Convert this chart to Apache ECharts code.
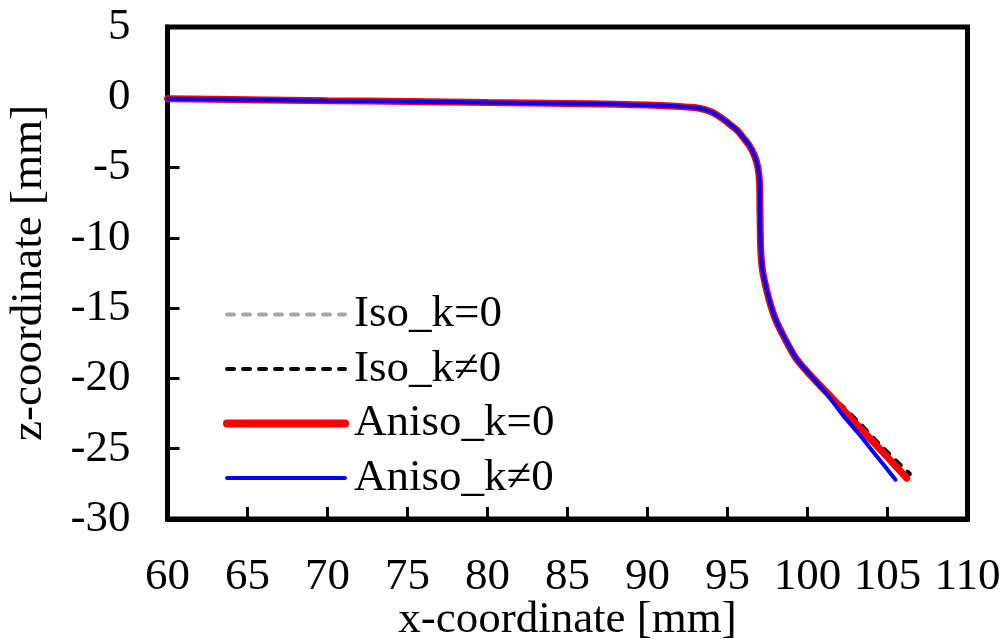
<!DOCTYPE html>
<html>
<head>
<meta charset="utf-8">
<script src="https://cdn.jsdelivr.net/npm/echarts@6/dist/echarts.min.js"></script>
<style>html,body{margin:0;padding:0;background:#fff;}#c{width:1005px;height:640px;}</style>
</head>
<body>
<div id="c"></div>
<script>
const xTicks = [60, 65, 70, 75, 80, 85, 90, 95, 100, 105, 110];
const zTicks = [5, 0, -5, -10, -15, -20, -25, -30];
const seriesNames = ['Iso_k=0', 'Iso_k\u22600', 'Aniso_k=0', 'Aniso_k\u22600'];

const isoK0X = [60, 65, 70, 75, 80, 85, 88, 90, 91.5, 92.5, 93.3, 94, 94.5, 95, 95.6, 96, 96.4, 96.7, 96.9, 97.0, 97.03, 97.07, 97.15, 97.3, 97.6, 98.0, 98.6, 99.3, 100.2, 101.2, 102.2, 103.1, 104.5, 106.1];
const isoK0Z = [-0.1, -0.17, -0.24, -0.3, -0.37, -0.44, -0.5, -0.55, -0.62, -0.7, -0.8, -1.05, -1.38, -1.8, -2.35, -2.9, -3.5, -4.2, -5.0, -6.0, -8.2, -10.6, -12.0, -13.0, -14.4, -15.8, -17.2, -18.6, -19.8, -21.0, -22.2, -23.3, -25.0, -27.0];

const isoKnX = [60, 65, 70, 75, 80, 85, 88, 90, 91.5, 92.5, 93.3, 94, 94.5, 95, 95.6, 96, 96.4, 96.7, 96.9, 97.0, 97.03, 97.07, 97.15, 97.3, 97.6, 98.0, 98.6, 99.3, 100.2, 101.2, 102.2, 103.1, 104.6, 106.4];
const isoKnZ = [-0.1, -0.17, -0.24, -0.3, -0.37, -0.44, -0.5, -0.55, -0.62, -0.7, -0.8, -1.05, -1.38, -1.8, -2.35, -2.9, -3.5, -4.2, -5.0, -6.0, -8.2, -10.6, -12.0, -13.0, -14.4, -15.8, -17.2, -18.6, -19.7, -20.9, -22.0, -23.0, -24.8, -26.8];

const anisoK0X = [60, 65, 70, 75, 80, 85, 88, 90, 91.5, 92.5, 93.3, 94, 94.5, 95, 95.6, 96, 96.4, 96.7, 96.9, 97.0, 97.03, 97.07, 97.15, 97.3, 97.6, 98.0, 98.6, 99.3, 100.2, 101.2, 102.2, 103.1, 104.5, 106.2];
const anisoK0Z = [-0.1, -0.17, -0.24, -0.3, -0.37, -0.44, -0.5, -0.55, -0.62, -0.7, -0.8, -1.05, -1.38, -1.8, -2.35, -2.9, -3.5, -4.2, -5.0, -6.0, -8.2, -10.6, -12.0, -13.0, -14.4, -15.8, -17.2, -18.6, -19.8, -21.0, -22.2, -23.3, -25.0, -27.1];

const anisoKnX = [60, 65, 70, 75, 80, 85, 88, 90, 91.5, 92.5, 93.3, 94, 94.5, 95, 95.6, 96, 96.4, 96.7, 96.9, 97.0, 97.03, 97.07, 97.15, 97.3, 97.6, 98.0, 98.6, 99.3, 100.2, 101.2, 102.2, 103.1, 104.3, 105.5];
const anisoKnZ = [-0.1, -0.17, -0.24, -0.3, -0.37, -0.44, -0.5, -0.55, -0.62, -0.7, -0.8, -1.05, -1.38, -1.8, -2.35, -2.9, -3.5, -4.2, -5.0, -6.0, -8.2, -10.6, -12.0, -13.0, -14.4, -15.8, -17.2, -18.6, -19.8, -21.1, -22.6, -23.8, -25.5, -27.2];

function pairs(xs, zs) { return xs.map((x, i) => [x, zs[i]]); }

const FONT = "'Liberation Serif', 'Times New Roman', serif";
const FS = 45;
const styles = [
  {color: '#a6a6a6', width: 4, type: [7, 9], cap: 'round'},
  {color: '#000000', width: 4, type: [7, 9], cap: 'round'},
  {color: '#ff0000', width: 7, type: 'solid', cap: 'round'},
  {color: '#0000ff', width: 4, type: 'solid', cap: 'round'}
];
const chart = echarts.init(document.getElementById('c'), null, {renderer: 'canvas'});
chart.setOption({
  animation: false,
  backgroundColor: '#fff',
  grid: {left: 167.5, right: 37.5, top: 27, bottom: 121, outerBoundsMode: 'none', containLabel: false,
    show: true, borderColor: '#000', borderWidth: 5, backgroundColor: 'transparent'},
  legend: {
    left: 218, top: 287, orient: 'vertical', itemWidth: 118, itemHeight: 14, itemGap: 9.5,
    itemStyle: {opacity: 0},
    data: seriesNames.map((n, i) => ({name: n, itemStyle: {opacity: 0}, lineStyle: Object.assign({}, styles[i], {width: i === 2 ? 8 : 4})})),
    textStyle: {fontFamily: FONT, fontSize: FS, color: '#000', lineHeight: 45, padding: [0, 0, 0, 4]}
  },
  xAxis: {
    type: 'value', min: 60, max: 110, interval: 5,
    name: 'x-coordinate [mm]', nameLocation: 'middle', nameGap: 79, nameMoveOverlap: false,
    nameTextStyle: {fontFamily: FONT, fontSize: FS, color: '#000'},
    axisLine: {show: true, onZero: false, lineStyle: {color: '#000', width: 5}},
    axisTick: {show: true, inside: true, length: 12, lineStyle: {color: '#000', width: 3}},
    splitLine: {show: false},
    axisLabel: {margin: 36, fontFamily: FONT, fontSize: FS, color: '#000',
      formatter: v => xTicks.includes(v) ? String(v) : ''}
  },
  yAxis: {
    type: 'value', min: -30, max: 5, interval: 5,
    name: 'z-coordinate [mm]', nameLocation: 'middle', nameGap: 116, nameMoveOverlap: false,
    nameTextStyle: {fontFamily: FONT, fontSize: FS, color: '#000'},
    axisLine: {show: true, onZero: false, lineStyle: {color: '#000', width: 5}},
    axisTick: {show: true, inside: true, length: 12, lineStyle: {color: '#000', width: 3}},
    splitLine: {show: false},
    axisLabel: {margin: 37, fontFamily: FONT, fontSize: FS, color: '#000',
      formatter: v => zTicks.includes(v) ? String(v) : ''}
  },
  series: [
    {name: seriesNames[0], type: 'line', data: pairs(isoK0X, isoK0Z), showSymbol: false, symbol: 'none', smooth: 0.3,
      lineStyle: styles[0], itemStyle: {color: styles[0].color}},
    {name: seriesNames[1], type: 'line', data: pairs(isoKnX, isoKnZ), showSymbol: false, symbol: 'none', smooth: 0.3,
      lineStyle: styles[1], itemStyle: {color: styles[1].color}},
    {name: seriesNames[2], type: 'line', data: pairs(anisoK0X, anisoK0Z), showSymbol: false, symbol: 'none', smooth: 0.3,
      lineStyle: styles[2], itemStyle: {color: styles[2].color}},
    {name: seriesNames[3], type: 'line', data: pairs(anisoKnX, anisoKnZ), showSymbol: false, symbol: 'none', smooth: 0.3,
      lineStyle: styles[3], itemStyle: {color: styles[3].color}}
  ]
});
</script>
</body>
</html>
